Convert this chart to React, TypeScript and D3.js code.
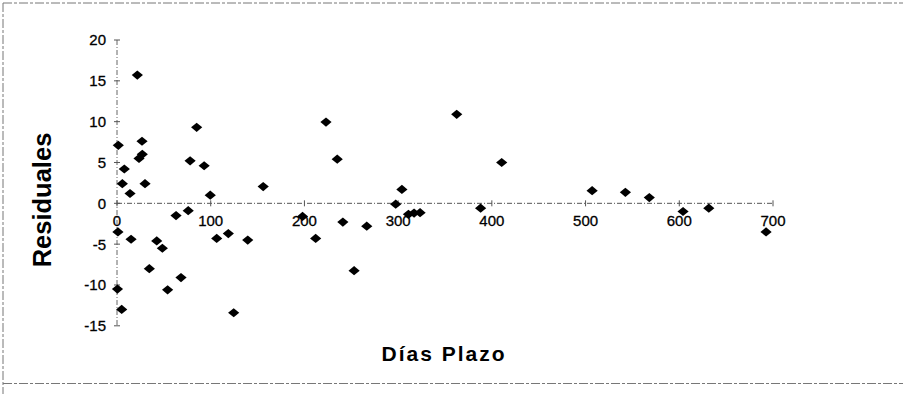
import React from "react";
import * as d3 from "d3";

const diasPlazo = [1.4, 7.8, 5.7, 13.9, 21.7, 23.5, 27, 26.7, 29.9, 78, 85, 93, 99.5, 76, 63, 1, 15, 42.4, 48.4, 34.5, 68.3, 54, 0.5, 5, 106.4, 118.8, 124.5, 139.5, 156, 198, 212, 223, 235, 241, 253, 266.5, 297.4, 304, 311, 317, 323.4, 362.5, 388, 410.5, 507, 542.5, 568, 604, 631.5, 692.6];
const residuales = [7.1, 4.2, 2.4, 1.2, 15.7, 5.5, 6.0, 7.6, 2.4, 5.2, 9.3, 4.6, 1.0, -0.9, -1.5, -3.5, -4.4, -4.6, -5.5, -8.0, -9.1, -10.6, -10.5, -13, -4.3, -3.7, -13.4, -4.5, 2.05, -1.6, -4.3, 9.95, 5.4, -2.3, -8.25, -2.8, -0.1, 1.7, -1.35, -1.2, -1.15, 10.9, -0.6, 5.0, 1.55, 1.35, 0.7, -1.0, -0.6, -3.5];
const xTicks = [0, 100, 200, 300, 400, 500, 600, 700];
const yTicks = [-15, -10, -5, 0, 5, 10, 15, 20];
const xTitle = "Días Plazo";
const yTitle = "Residuales";

export default function App() {
  const W = 903, H = 394;
  const x = d3.scaleLinear().domain([0, 700]).range([117, 773]);
  const y = d3.scaleLinear().domain([-15, 20]).range([325.8, 40]);
  const font = "Arial, 'Liberation Sans', sans-serif";
  const diamond = (cx: number, cy: number) =>
    `M${cx},${cy - 4.6}L${cx + 5.6},${cy}L${cx},${cy + 4.6}L${cx - 5.6},${cy}Z`;
  const axisDash = "5,2,1,2";
  return (
    <svg width={W} height={H} style={{ position: "absolute", left: 0, top: 0, background: "#fff" }}>
      <path d="M3,3H903M3,3V394M3,383.5H903" fill="none" stroke="#777" strokeWidth={1} strokeDasharray="9,2,3,2" />
      {/* y axis */}
      <line x1={x(0)} x2={x(0)} y1={y(20)} y2={y(-15)} stroke="#666" strokeDasharray={axisDash} />
      {yTicks.map((t) => (
        <g key={"y" + t}>
          <line x1={x(0) - 3} x2={x(0) + 3} y1={y(t)} y2={y(t)} stroke="#555" />
          <text x={106} y={y(t)} dy="0.36em" textAnchor="end" fontFamily={font} fontSize={15} fill="#000" stroke="#000" strokeWidth={0.3}>
            {t}
          </text>
        </g>
      ))}
      {/* x axis */}
      <line x1={x(0)} x2={x(700)} y1={y(0)} y2={y(0)} stroke="#555" strokeDasharray={axisDash} />
      {xTicks.map((t) => (
        <g key={"x" + t}>
          <line x1={x(t)} x2={x(t)} y1={y(0) - 3} y2={y(0) + 3} stroke="#555" />
          <text x={x(t)} y={y(0) + 17} dy="0.36em" textAnchor="middle" fontFamily={font} fontSize={15} fill="#000" stroke="#000" strokeWidth={0.3}>
            {t}
          </text>
        </g>
      ))}
      {/* points */}
      {diasPlazo.map((d, i) => (
        <path key={i} d={diamond(x(d), y(residuales[i]))} fill="#000" />
      ))}
      <text x={444} y={353} dy="0.36em" textAnchor="middle" fontFamily={font} fontWeight="bold" fontSize={21} letterSpacing={2}>
        {xTitle}
      </text>
      <text transform={`translate(42,${200}) rotate(-90)`} dy="0.36em" textAnchor="middle" fontFamily={font} fontWeight="bold" fontSize={25.5}>
        {yTitle}
      </text>
    </svg>
  );
}
